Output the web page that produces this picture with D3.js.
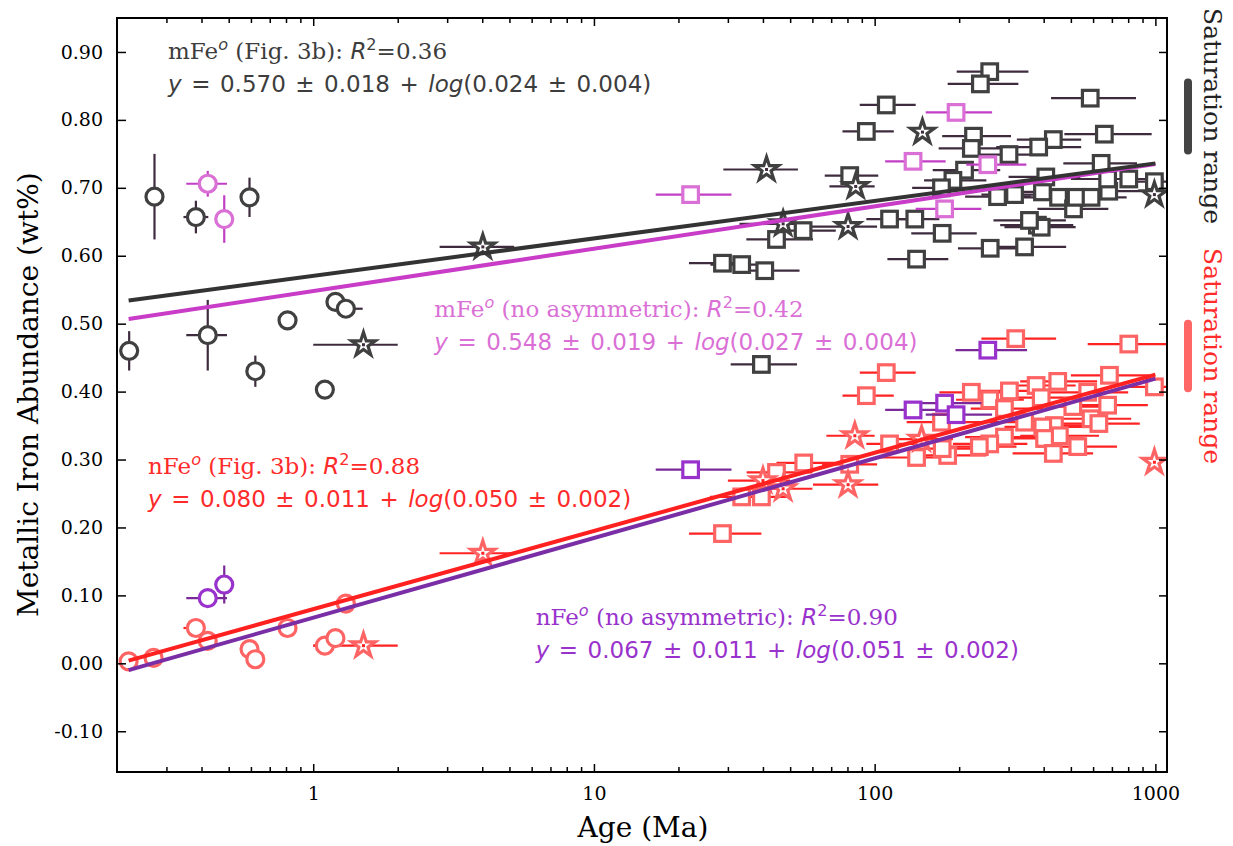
<!DOCTYPE html>
<html>
<head>
<meta charset="utf-8">
<script src="https://cdn.jsdelivr.net/npm/d3@7"></script>
<style>
body { margin: 0; background: #fff; }
</style>
</head>
<body>
<div id="chart"></div>
<script>
// each point: [age (Ma), abundance (wt%), age low, age high, abundance error]  (0 = no bar)
const blackCircles = [
  [0.221, 0.460, 0, 0, 0.029], [0.272, 0.687, 0, 0, 0.063], [0.382, 0.657, 0.345, 0.423, 0.024],
  [0.593, 0.686, 0, 0, 0.029], [0.421, 0.483, 0.353, 0.493, 0.052], [0.622, 0.430, 0, 0, 0.023],
  [0.810, 0.505, 0, 0, 0], [1.10, 0.403, 0, 0, 0], [1.20, 0.532, 1.13, 1.26, 0], [1.307, 0.522, 1.2, 1.5, 0]
]
const blackStars = [
  [1.51, 0.469, 1.0, 2.0, 0], [4.02, 0.613, 2.82, 5.2, 0], [41.2, 0.727, 28.9, 53.3, 0],
  [85.6, 0.702, 69, 100, 0], [80.4, 0.643, 58.7, 102, 0], [47.2, 0.647, 33, 59, 0],
  [148, 0.782, 0, 0, 0], [992, 0.690, 0, 0, 0]
]
const blackSquares = [
  [110, 0.822, 88.5, 140, 0], [93.4, 0.783, 76.8, 117, 0], [81.5, 0.718, 66.4, 103, 0],
  [113, 0.654, 93.4, 140, 0], [139, 0.654, 115, 170, 0], [55.6, 0.637, 47, 72.7, 0],
  [44.7, 0.624, 34.9, 60.3, 0], [28.7, 0.589, 21.8, 36, 0], [33.6, 0.587, 26, 42, 0],
  [40.6, 0.578, 32, 54, 0], [39.5, 0.440, 30.7, 52.9, 0], [141, 0.595, 111, 183, 0],
  [257, 0.871, 196, 353, 0], [238, 0.853, 182, 325, 0], [586, 0.832, 425, 853, 0],
  [225, 0.776, 174, 306, 0], [221, 0.758, 169, 290, 0], [433, 0.771, 321, 544, 0],
  [658, 0.779, 474, 970, 0], [384, 0.760, 271, 544, 0], [301, 0.749, 230, 400, 0],
  [209, 0.726, 161, 280, 0], [190, 0.711, 150, 250, 0], [173, 0.700, 136, 230, 0],
  [174, 0.633, 135, 231, 0], [258, 0.611, 198, 330, 0], [342, 0.613, 260, 481, 0],
  [274, 0.687, 210, 360, 0], [315, 0.690, 240, 420, 0], [396, 0.694, 300, 530, 0],
  [452, 0.686, 340, 600, 0], [511, 0.669, 380, 680, 0], [522, 0.686, 390, 700, 0],
  [590, 0.686, 440, 790, 0], [682, 0.695, 500, 900, 0], [676, 0.713, 500, 900, 0],
  [641, 0.736, 470, 860, 0], [804, 0.713, 600, 1070, 0], [992, 0.709, 760, 1300, 0],
  [407, 0.716, 300, 540, 0], [380, 0.645, 280, 510, 0], [392, 0.642, 290, 520, 0],
  [356, 0.652, 265, 480, 0]
]
const pinkCircles = [[0.421, 0.706, 0.353, 0.493, 0.019], [0.482, 0.654, 0, 0, 0.035]]
const pinkSquares = [
  [22.1, 0.690, 16.6, 30.9, 0], [137, 0.739, 109, 179, 0], [195, 0.811, 152, 262, 0],
  [253, 0.734, 212, 347, 0], [177.5, 0.669, 140, 240, 0]
]
const redCircles = [
  [0.220, 0.003, 0, 0, 0], [0.270, 0.008, 0, 0, 0], [0.382, 0.052, 0.345, 0, 0],
  [0.421, 0.033, 0, 0, 0.012], [0.593, 0.021, 0, 0, 0], [0.622, 0.006, 0, 0, 0],
  [0.810, 0.052, 0, 0, 0], [1.10, 0.026, 1.0, 1.2, 0], [1.20, 0.037, 0, 0, 0],
  [1.307, 0.088, 1.2, 1.4, 0]
]
const redStars = [
  [1.51, 0.026, 1.0, 2.0, 0], [4.02, 0.162, 2.82, 5.2, 0], [85, 0.335, 67.3, 100, 0],
  [80.4, 0.263, 60.3, 103, 0], [47.2, 0.257, 33, 60, 0], [40, 0.269, 30, 50, 0],
  [147, 0.330, 110, 190, 0], [992, 0.296, 0, 0, 0]
]
const redSquares = [
  [110, 0.428, 88.5, 140, 0], [93.4, 0.394, 76.8, 117, 0], [113, 0.323, 93.4, 140, 0],
  [81.5, 0.293, 65, 102, 0], [55.9, 0.295, 44.7, 72, 0], [44.7, 0.281, 35, 60, 0],
  [33.6, 0.245, 25.9, 42, 0], [39.5, 0.245, 31, 50, 0], [28.7, 0.191, 21.8, 39.5, 0],
  [318, 0.478, 240, 443, 0], [804, 0.470, 574, 1200, 0], [992, 0.407, 760, 1300, 0],
  [221, 0.399, 170, 300, 0], [257, 0.388, 195, 340, 0], [302, 0.401, 230, 420, 0],
  [376, 0.409, 280, 520, 0], [449, 0.415, 330, 620, 0], [392, 0.391, 290, 540, 0],
  [290, 0.375, 220, 400, 0], [574, 0.399, 420, 800, 0], [686, 0.424, 500, 950, 0],
  [508, 0.378, 370, 700, 0], [590, 0.360, 430, 820, 0], [676, 0.380, 500, 940, 0],
  [629, 0.353, 460, 880, 0], [437, 0.350, 320, 600, 0], [397, 0.348, 290, 550, 0],
  [342, 0.355, 250, 470, 0], [455, 0.335, 330, 630, 0], [403, 0.331, 290, 560, 0],
  [290, 0.333, 210, 400, 0], [257, 0.323, 190, 350, 0], [236, 0.319, 175, 320, 0],
  [529, 0.319, 380, 730, 0], [433, 0.309, 310, 600, 0], [182, 0.306, 135, 250, 0],
  [141, 0.303, 105, 195, 0], [174, 0.316, 130, 240, 0], [173, 0.355, 130, 240, 0]
]
const purpleCircles = [[0.421, 0.096, 0.353, 0.493, 0.012], [0.482, 0.116, 0, 0, 0.028]]
const purpleSquares = [
  [22.1, 0.285, 16.6, 30.9, 0], [253, 0.461, 194, 349, 0], [137, 0.373, 109, 180, 0],
  [177.5, 0.383, 140, 240, 0], [195, 0.366, 152, 262, 0]
]

// fitted trends, end points [age, abundance]
const fitAges = [0.22, 1000]
const blackFit = [0.534, 0.736]
const pinkFit = [0.507, 0.735]
const redFit = [0.004, 0.425]
const purpleFit = [-0.010, 0.419]

// saturation ranges (wt%)
const satBlack = [0.755, 0.855]
const satRed = [0.405, 0.500]

const xTicks = [1, 10, 100, 1000]
const xMinor = [0.3, 0.4, 0.5, 0.6, 0.7, 0.8, 0.9, 2, 3, 4, 5, 6, 7, 8, 9,
  20, 30, 40, 50, 60, 70, 80, 90, 200, 300, 400, 500, 600, 700, 800, 900]
const yTicks = [-0.1, 0, 0.1, 0.2, 0.3, 0.4, 0.5, 0.6, 0.7, 0.8, 0.9]

const W = 1233, H = 846
const margin = {top: 18, right: 66, bottom: 74, left: 117}
const width = W - margin.left - margin.right
const height = H - margin.top - margin.bottom

const SERIF = 'DejaVu Serif'
const SANS = 'DejaVu Sans'

const svg = d3.select('#chart').append('svg')
  .attr('width', W)
  .attr('height', H)

const x = d3.scaleLog().domain([0.2, 1100]).range([0, width])
const y = d3.scaleLinear().domain([-0.16, 0.95]).range([height, 0])

const g = svg.append('g')
  .attr('transform', 'translate(' + margin.left + ',' + margin.top + ')')

g.append('clipPath').attr('id', 'plotclip')
  .append('rect').attr('width', width).attr('height', height)

const plot = g.append('g').attr('clip-path', 'url(#plotclip)')

const starSym = d3.symbol().type(d3.symbolStar).size(175)

function drawGroup(sets, edge, errColor) {
  const all = sets.flatMap(s => s.data)
  const eb = plot.append('g')
    .attr('stroke', errColor)
    .attr('stroke-width', 2.2)
  all.filter(d => d[2] > 0 || d[3] > 0).forEach(d => {
    eb.append('line')
      .attr('x1', x(d[2] > 0 ? d[2] : d[0])).attr('x2', x(d[3] > 0 ? d[3] : d[0]))
      .attr('y1', y(d[1])).attr('y2', y(d[1]))
  })
  all.filter(d => d[4] > 0).forEach(d => {
    eb.append('line')
      .attr('x1', x(d[0])).attr('x2', x(d[0]))
      .attr('y1', y(d[1] - d[4])).attr('y2', y(d[1] + d[4]))
  })
  sets.forEach(s => {
    const m = plot.append('g')
      .attr('fill', '#fff')
      .attr('stroke', edge)
      .attr('stroke-width', 3.2)
    if (s.shape === 'circle') {
      m.selectAll('circle').data(s.data).join('circle')
        .attr('cx', d => x(d[0])).attr('cy', d => y(d[1])).attr('r', 8.5)
    } else if (s.shape === 'square') {
      m.selectAll('rect').data(s.data).join('rect')
        .attr('x', d => x(d[0]) - 7.8).attr('y', d => y(d[1]) - 7.8)
        .attr('width', 15.6).attr('height', 15.6)
    } else {
      m.selectAll('path').data(s.data).join('path')
        .attr('transform', d => 'translate(' + x(d[0]) + ',' + y(d[1]) + ')')
        .attr('stroke-linejoin', 'miter')
        .attr('d', starSym)
      m.selectAll('rect.dot').data(s.data).join('rect')
        .attr('class', 'dot')
        .attr('x', d => x(d[0]) - 1.5).attr('y', d => y(d[1]) - 1.5)
        .attr('width', 3).attr('height', 3)
        .attr('stroke', 'none').attr('fill', errColor)
    }
  })
}

drawGroup([{shape: 'circle', data: blackCircles}, {shape: 'square', data: blackSquares},
  {shape: 'star', data: blackStars}], '#404040', '#3e2c3e')
drawGroup([{shape: 'circle', data: pinkCircles}, {shape: 'square', data: pinkSquares}],
  '#da70d6', '#c23ec4')
drawGroup([{shape: 'circle', data: redCircles}, {shape: 'square', data: redSquares},
  {shape: 'star', data: redStars}], '#ff6464', '#ff2222')
drawGroup([{shape: 'circle', data: purpleCircles}, {shape: 'square', data: purpleSquares}],
  '#9932cc', '#7a2a98')

const fitLine = d3.line().x(d => x(d[0])).y(d => y(d[1]))
const fits = [[pinkFit, '#c83cc8'], [blackFit, '#333333'], [purpleFit, '#7a2ea6'], [redFit, '#ff2020']]
fits.forEach(f => {
  plot.append('path')
    .datum(fitAges.map((a, i) => [a, f[0][i]]))
    .attr('fill', 'none')
    .attr('stroke', f[1])
    .attr('stroke-width', 4)
    .attr('d', fitLine)
})

// axes, ticks pointing inward on all four sides
function styleAxis(sel) {
  sel.select('.domain').remove()
  sel.selectAll('line').attr('stroke', '#000').attr('stroke-width', 1.5)
  sel.selectAll('text').attr('font-family', SERIF).attr('font-size', 19).attr('fill', '#000')
}

g.append('g')
  .attr('transform', 'translate(0,' + height + ')')
  .call(d3.axisBottom(x).tickValues(xTicks).tickFormat(d3.format('d'))
    .tickSizeInner(-8).tickSizeOuter(0).tickPadding(15))
  .call(styleAxis)
g.append('g')
  .attr('transform', 'translate(0,' + height + ')')
  .call(d3.axisBottom(x).tickValues(xMinor).tickFormat('').tickSizeInner(-5).tickSizeOuter(0))
  .call(styleAxis)
g.append('g')
  .call(d3.axisTop(x).tickValues(xTicks).tickFormat('').tickSizeInner(-8).tickSizeOuter(0))
  .call(styleAxis)
g.append('g')
  .call(d3.axisTop(x).tickValues(xMinor).tickFormat('').tickSizeInner(-5).tickSizeOuter(0))
  .call(styleAxis)
g.append('g')
  .call(d3.axisLeft(y).tickValues(yTicks).tickFormat(d => d3.format('.2f')(d).replace('−', '-'))
    .tickSizeInner(-9).tickSizeOuter(0).tickPadding(14))
  .call(styleAxis)
g.append('g')
  .attr('transform', 'translate(' + width + ',0)')
  .call(d3.axisRight(y).tickValues(yTicks).tickFormat('').tickSizeInner(-8).tickSizeOuter(0))
  .call(styleAxis)

g.append('rect')
  .attr('width', width).attr('height', height)
  .attr('fill', 'none').attr('stroke', '#000').attr('stroke-width', 2)

// axis titles
svg.append('text')
  .attr('x', margin.left + x(10) + 49).attr('y', 837)
  .attr('text-anchor', 'middle')
  .attr('font-family', SERIF).attr('font-size', 28)
  .text('Age (Ma)')
svg.append('text')
  .attr('transform', 'translate(38,' + (margin.top + y(0.4) + 3) + ') rotate(-90)')
  .attr('text-anchor', 'middle')
  .attr('font-family', SERIF).attr('font-size', 28)
  .text('Metallic Iron Abundance (wt%)')

// fit annotations
const notes = [
  {name: 'mFe', tag: ' (Fig. 3b): ', r2: '=0.36', eq: ['0.570 ± 0.018', '0.024 ± 0.004'],
    color: '#3d3d3d', age: 0.304, val: 0.89},
  {name: 'mFe', tag: ' (no asymmetric): ', r2: '=0.42', eq: ['0.548 ± 0.019', '0.027 ± 0.004'],
    color: '#da70d6', age: 2.7, val: 0.51},
  {name: 'nFe', tag: ' (Fig. 3b): ', r2: '=0.88', eq: ['0.080 ± 0.011', '0.050 ± 0.002'],
    color: '#ff2a2a', age: 0.258, val: 0.278},
  {name: 'nFe', tag: ' (no asymmetric): ', r2: '=0.90', eq: ['0.067 ± 0.011', '0.051 ± 0.002'],
    color: '#9932cc', age: 6.2, val: 0.056}
]
const FS = 23
notes.forEach(n => {
  const t = g.append('text')
    .attr('x', x(n.age)).attr('y', y(n.val))
    .attr('fill', n.color).attr('font-size', FS)
  t.append('tspan').attr('font-family', SERIF).text(n.name)
  t.append('tspan').attr('font-family', SANS).attr('font-style', 'italic')
    .attr('font-size', FS * 0.7).attr('dy', -9).text('o')
  t.append('tspan').attr('font-family', SERIF).attr('dy', 9).text(n.tag)
  t.append('tspan').attr('font-family', SANS).attr('font-style', 'italic').text('R')
  t.append('tspan').attr('font-family', SANS).attr('font-size', FS * 0.7).attr('dy', -9).text('2')
  t.append('tspan').attr('font-family', SERIF).attr('dy', 9).text(n.r2)

  const e = g.append('text')
    .attr('x', x(n.age)).attr('y', y(n.val) + 33)
    .attr('fill', n.color).attr('font-size', FS).attr('font-family', SANS)
    .attr('word-spacing', 2.2)
    .attr('xml:space', 'preserve')
  e.append('tspan').attr('font-style', 'italic').text('y')
  e.append('tspan').text(' = ' + n.eq[0] + ' + ')
  e.append('tspan').attr('font-style', 'italic').text('log')
  e.append('tspan').text('(' + n.eq[1] + ')')
})

// saturation ranges, outside the frame on the right
const satX = width + 21
const sats = [[satBlack, '#444444', '#222222', 8], [satRed, '#ff6666', '#ff2a2a', 248]]
sats.forEach(s => {
  g.append('line')
    .attr('x1', satX).attr('x2', satX)
    .attr('y1', y(s[0][1])).attr('y2', y(s[0][0]))
    .attr('stroke', s[1]).attr('stroke-width', 8).attr('stroke-linecap', 'round')
  svg.append('text')
    .attr('transform', 'translate(1204,' + s[3] + ') rotate(90)')
    .attr('font-family', SERIF).attr('font-size', 25)
    .attr('fill', s[2])
    .text('Saturation range')
})
</script>
</body>
</html>
